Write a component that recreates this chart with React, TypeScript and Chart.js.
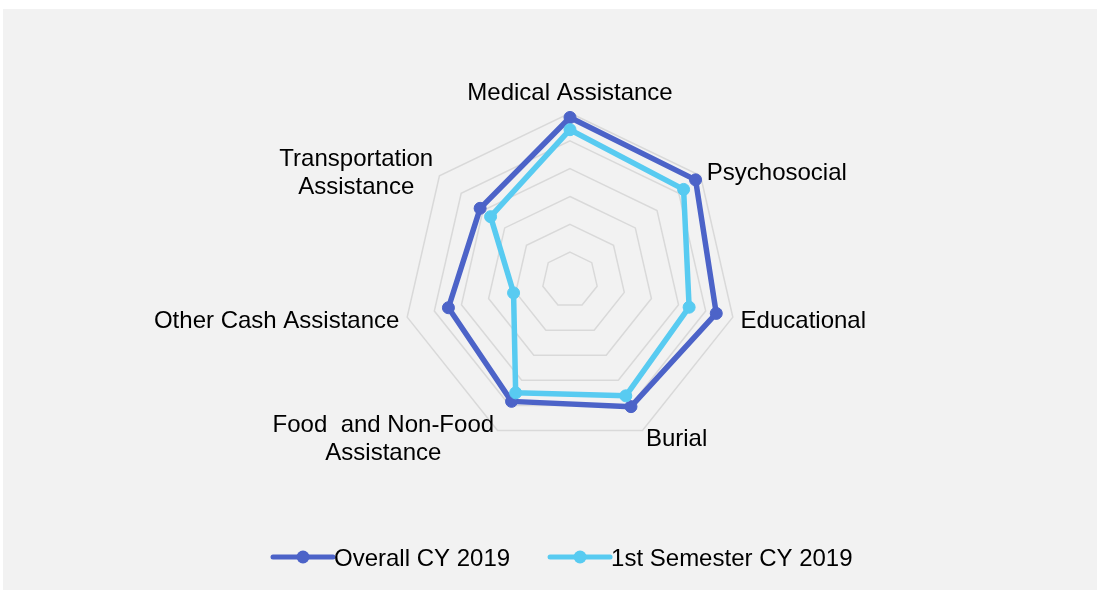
import React, { useEffect, useRef } from "react";
import { Chart, registerables } from "chart.js";

Chart.register(...registerables);

const categories: (string | string[])[] = [
  "Medical Assistance",
  "Psychosocial",
  "Educational",
  "Burial",
  ["Food  and Non-Food", "Assistance"],
  "Other Cash Assistance",
  ["Transportation", "Assistance"],
];
const overallCY2019 = [5.84, 5.77, 5.39, 5.05, 4.84, 4.48, 4.13];
const firstSemesterCY2019 = [5.4, 5.22, 4.39, 4.62, 4.5, 2.08, 3.65];
const seriesNames = ["Overall CY 2019", "1st Semester CY 2019"];
const seriesColors = ["#4c63c8", "#58cbf1"];
const scaleMax = 6;

const FONT = "24px 'Liberation Sans', Arial, sans-serif";

const bgPlugin = {
  id: "bgPlugin",
  beforeDraw(chart: any) {
    const { ctx } = chart;
    ctx.save();
    ctx.fillStyle = "#f2f2f2";
    ctx.fillRect(3, 9, chart.width - 3, chart.height - 9);
    ctx.restore();
  },
};

const labelPlugin = {
  id: "labelPlugin",
  afterDraw(chart: any) {
    const { ctx } = chart;
    const scale = chart.scales.r;
    const n = categories.length;
    ctx.save();
    ctx.font = FONT;
    ctx.fillStyle = "#000000";
    ctx.textBaseline = "middle";
    const lh = 28;
    for (let i = 0; i < n; i++) {
      const pos = scale.getPointPosition(i, scale.drawingArea + 8);
      const deg = (i * 360) / n;
      let align: CanvasTextAlign = "center";
      if (deg > 0.5 && deg < 179.5) align = "left";
      else if (deg > 180.5) align = "right";
      const lines = Array.isArray(categories[i]) ? (categories[i] as string[]) : [categories[i] as string];
      let cy = pos.y + 2;
      if (deg < 0.5) cy = pos.y - 12;
      const total = (lines.length - 1) * lh;
      if (lines.length > 1) {
        const widths = lines.map((l) => ctx.measureText(l).width);
        const maxW = Math.max(...widths);
        let cx = pos.x;
        if (align === "left") cx = pos.x + maxW / 2;
        else if (align === "right") cx = pos.x - maxW / 2;
        ctx.textAlign = "center";
        lines.forEach((l, k) => {
          ctx.fillText(l, cx, cy - total / 2 + k * lh);
        });
      } else {
        ctx.textAlign = align;
        ctx.fillText(lines[0], pos.x, cy);
      }
    }
    ctx.restore();
  },
};

const legendPlugin = {
  id: "legendPlugin",
  afterDraw(chart: any) {
    const { ctx } = chart;
    ctx.save();
    ctx.font = FONT;
    ctx.textBaseline = "middle";
    ctx.textAlign = "left";
    const y = 557;
    let x = 273;
    const lineLen = 60;
    const gap = 40;
    seriesNames.forEach((name, i) => {
      ctx.strokeStyle = seriesColors[i];
      ctx.lineWidth = 5;
      ctx.lineCap = "round";
      ctx.beginPath();
      ctx.moveTo(x, y);
      ctx.lineTo(x + lineLen, y);
      ctx.stroke();
      ctx.fillStyle = seriesColors[i];
      ctx.beginPath();
      ctx.arc(x + lineLen / 2, y, 6.5, 0, Math.PI * 2);
      ctx.fill();
      ctx.fillStyle = "#000000";
      ctx.fillText(name, x + lineLen + 1, y + 2);
      x += lineLen + 1 + ctx.measureText(name).width + gap;
    });
    ctx.restore();
  },
};

export default function App() {
  const ref = useRef<HTMLCanvasElement | null>(null);
  useEffect(() => {
    if (!ref.current) return;
    const chart = new Chart(ref.current, {
      type: "radar",
      data: {
        labels: categories as any,
        datasets: [
          {
            label: seriesNames[0],
            data: overallCY2019,
            borderColor: seriesColors[0],
            backgroundColor: seriesColors[0],
            pointBackgroundColor: seriesColors[0],
            pointBorderColor: seriesColors[0],
            borderWidth: 5.5,
            pointRadius: 6,
            pointBorderWidth: 1,
            fill: false,
            order: 1,
          },
          {
            label: seriesNames[1],
            data: firstSemesterCY2019,
            borderColor: seriesColors[1],
            backgroundColor: seriesColors[1],
            pointBackgroundColor: seriesColors[1],
            pointBorderColor: seriesColors[1],
            borderWidth: 5.5,
            pointRadius: 6,
            pointBorderWidth: 1,
            fill: false,
            order: 0,
          },
        ],
      },
      options: {
        responsive: false,
        animation: false,
        layout: { padding: { top: 113, bottom: 142, left: 300, right: 257 } },
        plugins: { legend: { display: false }, tooltip: { enabled: false } },
        elements: { line: { tension: 0, borderJoinStyle: "round" } },
        scales: {
          r: {
            min: 0,
            max: scaleMax,
            ticks: { display: false, stepSize: 1 },
            grid: { color: "#d9d9d9", lineWidth: 1.5 },
            angleLines: { display: false },
            pointLabels: { display: false },
          },
        },
      },
      plugins: [bgPlugin, labelPlugin, legendPlugin],
    });
    return () => chart.destroy();
  }, []);
  return (
    <div style={{ position: "absolute", left: 0, top: 0, width: 1097, height: 590 }}>
      <canvas ref={ref} width={1097} height={590} style={{ width: 1097, height: 590, display: "block" }} />
    </div>
  );
}
